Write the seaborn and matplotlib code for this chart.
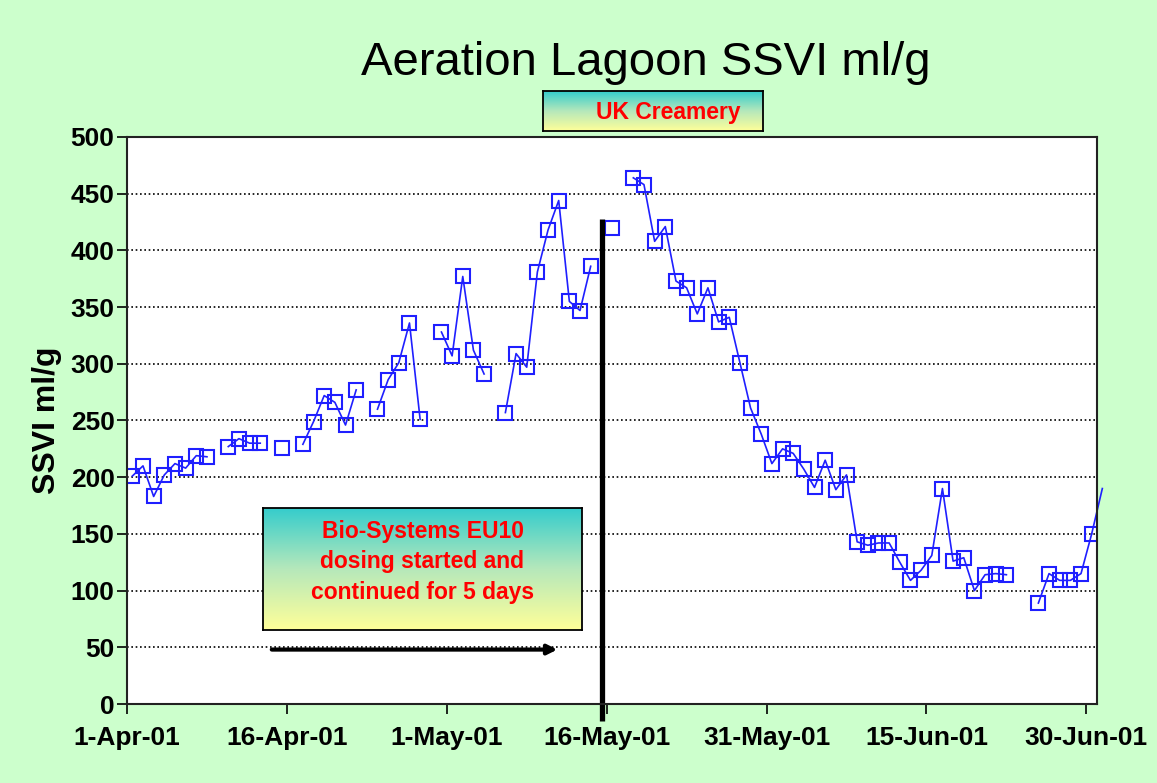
import numpy as np
import pandas as pd
import matplotlib.pyplot as plt
import matplotlib.dates as mdates
from matplotlib.colors import LinearSegmentedColormap
import seaborn as sns

# daily SSVI readings from 1-Apr-01, None = no reading that day
ssvi = [201, 210, 183, 202, 212, 208, 219, 218, None, 227,
        234, 230, 230, None, 226, None, 229, 249, 272, 266,
        246, 277, None, 260, 286, 301, 336, 251, None, 328,
        307, 377, 312, 291, None, 257, 309, 297, 381, 418,
        444, 355, 347, 386, None, 420, None, 464, 458, 408,
        421, 373, 367, 344, 367, 337, 341, 301, 261, 238,
        212, 225, 221, 207, 191, 215, 189, 202, 143, 140,
        142, 142, 125, 109, 118, 131, 190, 126, 129, 100,
        114, 115, 114, None, None, 89, 115, 109, 109, 115,
        150, 190]
start_date = '2001-04-01'
end_date = '2001-07-01'
tick_dates = pd.date_range(start_date, periods=7, freq='15D')
dosing_line = pd.Timestamp('2001-05-15 14:00')
arrow_from = pd.Timestamp('2001-04-14 14:00')
arrow_to = pd.Timestamp('2001-05-11 09:00')
title = 'Aeration Lagoon SSVI ml/g'
box_text = 'Bio-Systems EU10\ndosing started and\ncontinued for 5 days'
site_text = 'UK Creamery'

plt.rcParams['font.family'] = ['Liberation Sans', 'DejaVu Sans']

# Excel date axis puts each point in the middle of its day
df = pd.DataFrame({'date': pd.date_range(start_date, periods=len(ssvi), freq='D') + pd.Timedelta(hours=12),
                   'ssvi': ssvi})
df['ssvi'] = df['ssvi'].astype(float)
# split into runs so missing days break the line
df['seg'] = df['ssvi'].isna().cumsum()
df = df.dropna()
inside = df[df['date'] < pd.Timestamp(end_date)]
tail = df.iloc[-2:]  # last reading lies past the axis end, only its line shows

fig = plt.figure(figsize=(11.57, 7.83), dpi=100, facecolor='#ccffcc')
ax = fig.add_axes([127 / 1157, 79 / 783, 970 / 1157, 567 / 783])
ax.set_facecolor('white')

blue = '#1f1fff'
sns.lineplot(data=inside, x='date', y='ssvi', units='seg', estimator=None, ax=ax,
             color=blue, lw=1.2, marker='s', ms=9.5, mfc='none', mec=blue, mew=1.5)
sns.lineplot(data=tail, x='date', y='ssvi', estimator=None, ax=ax,
             color=blue, lw=1.2, clip_on=False)

ax.set_xlim(pd.Timestamp(start_date), pd.Timestamp(end_date))
ax.set_ylim(0, 500)
ax.set_yticks(range(0, 501, 50))
ax.set_xticks(tick_dates)
ax.xaxis.set_major_formatter(mdates.DateFormatter('%-d-%b-%y'))
ax.grid(axis='y', color='black', linestyle=(0, (1, 1.6)), lw=1.2)
ax.grid(axis='x', visible=False)
ax.set_axisbelow(True)
ax.tick_params(length=7, width=1.2, labelsize=19)
ax.tick_params(axis='x', pad=9)
ax.tick_params(axis='y', pad=2)
for lab in ax.get_xticklabels() + ax.get_yticklabels():
    lab.set_fontweight('bold')
for s in ax.spines.values():
    s.set_color('#222222')
    s.set_linewidth(1.5)
ax.set_xlabel('')
ax.set_ylabel('SSVI ml/g', fontsize=23, fontweight='bold', labelpad=6)

# dosing marker line and arrow
ax.plot([dosing_line, dosing_line], [-15, 428], color='black', lw=3.8,
        clip_on=False, solid_capstyle='butt')
ax.annotate('', xy=(arrow_to, 48), xytext=(arrow_from, 48),
            arrowprops=dict(arrowstyle='-|>', lw=3, color='black',
                            mutation_scale=14, shrinkA=0, shrinkB=0))

fig.text(646 / 1157, 1 - 63 / 783, title, ha='center', va='center', fontsize=34)

grad = np.linspace(0, 1, 256).reshape(-1, 1)
cmap = LinearSegmentedColormap.from_list('tealyellow', ['#33cccc', '#b5e8bb', '#ffff99'])

# gradient text boxes
box_ax = fig.add_axes([263 / 1157, (783 - 630) / 783, 319 / 1157, 122 / 783])
box_ax.imshow(grad, aspect='auto', cmap=cmap, extent=[0, 1, 0, 1])
box_ax.set_xticks([])
box_ax.set_yticks([])
for s in box_ax.spines.values():
    s.set_linewidth(1.3)
box_ax.text(0.5, 0.56, box_text, ha='center', va='center', color='red',
            fontsize=16.5, fontweight='bold', linespacing=1.42)

site_ax = fig.add_axes([543 / 1157, (783 - 131) / 783, 220 / 1157, 40 / 783])
site_ax.imshow(grad, aspect='auto', cmap=cmap, extent=[0, 1, 0, 1])
site_ax.set_xticks([])
site_ax.set_yticks([])
for s in site_ax.spines.values():
    s.set_linewidth(1.3)
site_ax.text(0.57, 0.45, site_text, ha='center', va='center', color='red',
             fontsize=16.5, fontweight='bold')

fig.savefig('out.png', dpi=100, facecolor=fig.get_facecolor())
